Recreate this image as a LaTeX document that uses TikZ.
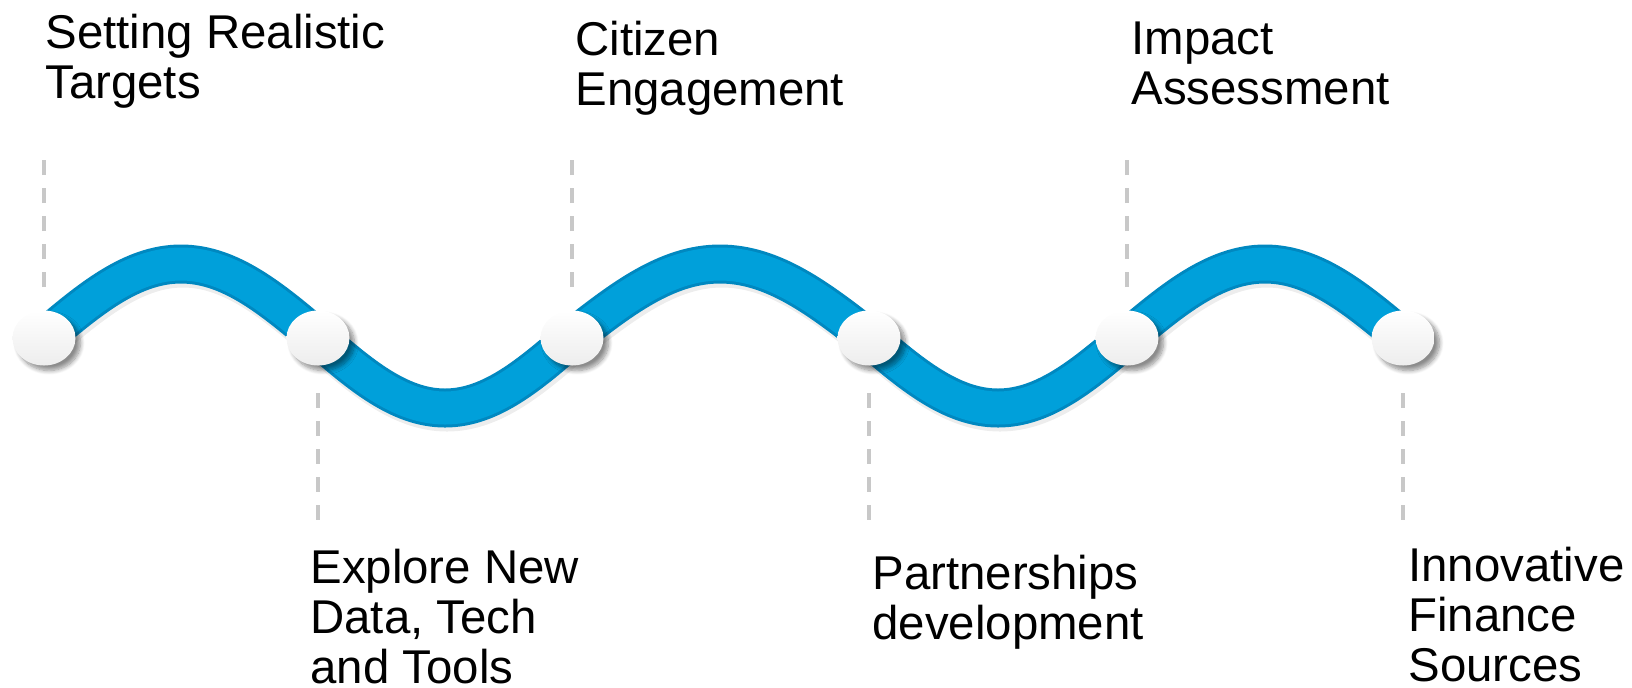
\documentclass[tikz,border=0pt]{standalone}
\usepackage{fontspec}
\setmainfont{Liberation Sans}
\usetikzlibrary{shapes.geometric,shadows.blur}
\definecolor{wellenblau}{RGB}{0,160,218}
\definecolor{wellendunkel}{RGB}{0,136,192}
\definecolor{liniengrau}{RGB}{200,200,200}
\tikzset{
  welle/.style={wellenblau, line width=16.5pt,
    preaction={draw, black, opacity=.07, line width=20.5pt, transform canvas={shift={(1pt,-1.5pt)}}},
    preaction={draw, wellendunkel, line width=19.5pt}},
  punkt/.style={ellipse, minimum width=31.5pt, minimum height=27.5pt, inner sep=0pt,
    top color=white, bottom color=gray!14,
    blur shadow={shadow xshift=2.5pt, shadow yshift=-2.5pt, shadow blur steps=8, shadow opacity=45}},
  hilfslinie/.style={liniengrau, line width=1.7pt, dash pattern=on 7.5pt off 6.5pt},
  beschriftung/.style={anchor=north west, inner sep=0pt, align=left,
    font=\fontsize{23.7pt}{25pt}\selectfont}
}
\begin{document}
\begin{tikzpicture}[x=0.5pt, y=-0.5pt]
            \useasboundingbox (0,0) rectangle (1632,687);
            % Mittelpunkte
            \coordinate (c1) at (44,338);
            \coordinate (c2) at (318,338);
            \coordinate (c3) at (572,338);
            \coordinate (c4) at (869,338);
            \coordinate (c5) at (1127,338);
            \coordinate (c6) at (1403,338);
            % Scheitel
            \coordinate (p1) at (181,264);
            \coordinate (p2) at (445,408);
            \coordinate (p3) at (720,264);
            \coordinate (p4) at (998,408);
            \coordinate (p5) at (1265,264);
            % Welle
            \draw [welle] (c1) sin (p1) cos (c2) sin (p2) cos (c3) sin (p3) cos (c4)
                             sin (p4) cos (c5) sin (p5) cos (c6);
            % Punkte
            \foreach \i in {1,...,6}
                \node [punkt] (e\i) at (c\i) {};
            % Hilfslinien
            \foreach \p in {e1,e3,e5}
                \draw [hilfslinie] ([yshift=11.5pt]\p.north) -- ++(0,-128);
            \foreach \p in {e2,e4,e6}
                \draw [hilfslinie] ([yshift=-13.75pt]\p.south) -- ++(0,127);
            % Texte
            \node [beschriftung] (l1) at (45,14)    {Setting Realistic\\Targets};
            \node [beschriftung] (l2) at (310,549)  {Explore New\\Data, Tech\\and Tools};
            \node [beschriftung] (l3) at (575,21)   {Citizen\\Engagement};
            \node [beschriftung] (l4) at (872,555)  {Partnerships\\development};
            \node [beschriftung] (l5) at (1131,21)  {Impact\\Assessment};
            \node [beschriftung] (l6) at (1408,547) {Innovative\\Finance\\Sources};
        \end{tikzpicture}
\end{document}
